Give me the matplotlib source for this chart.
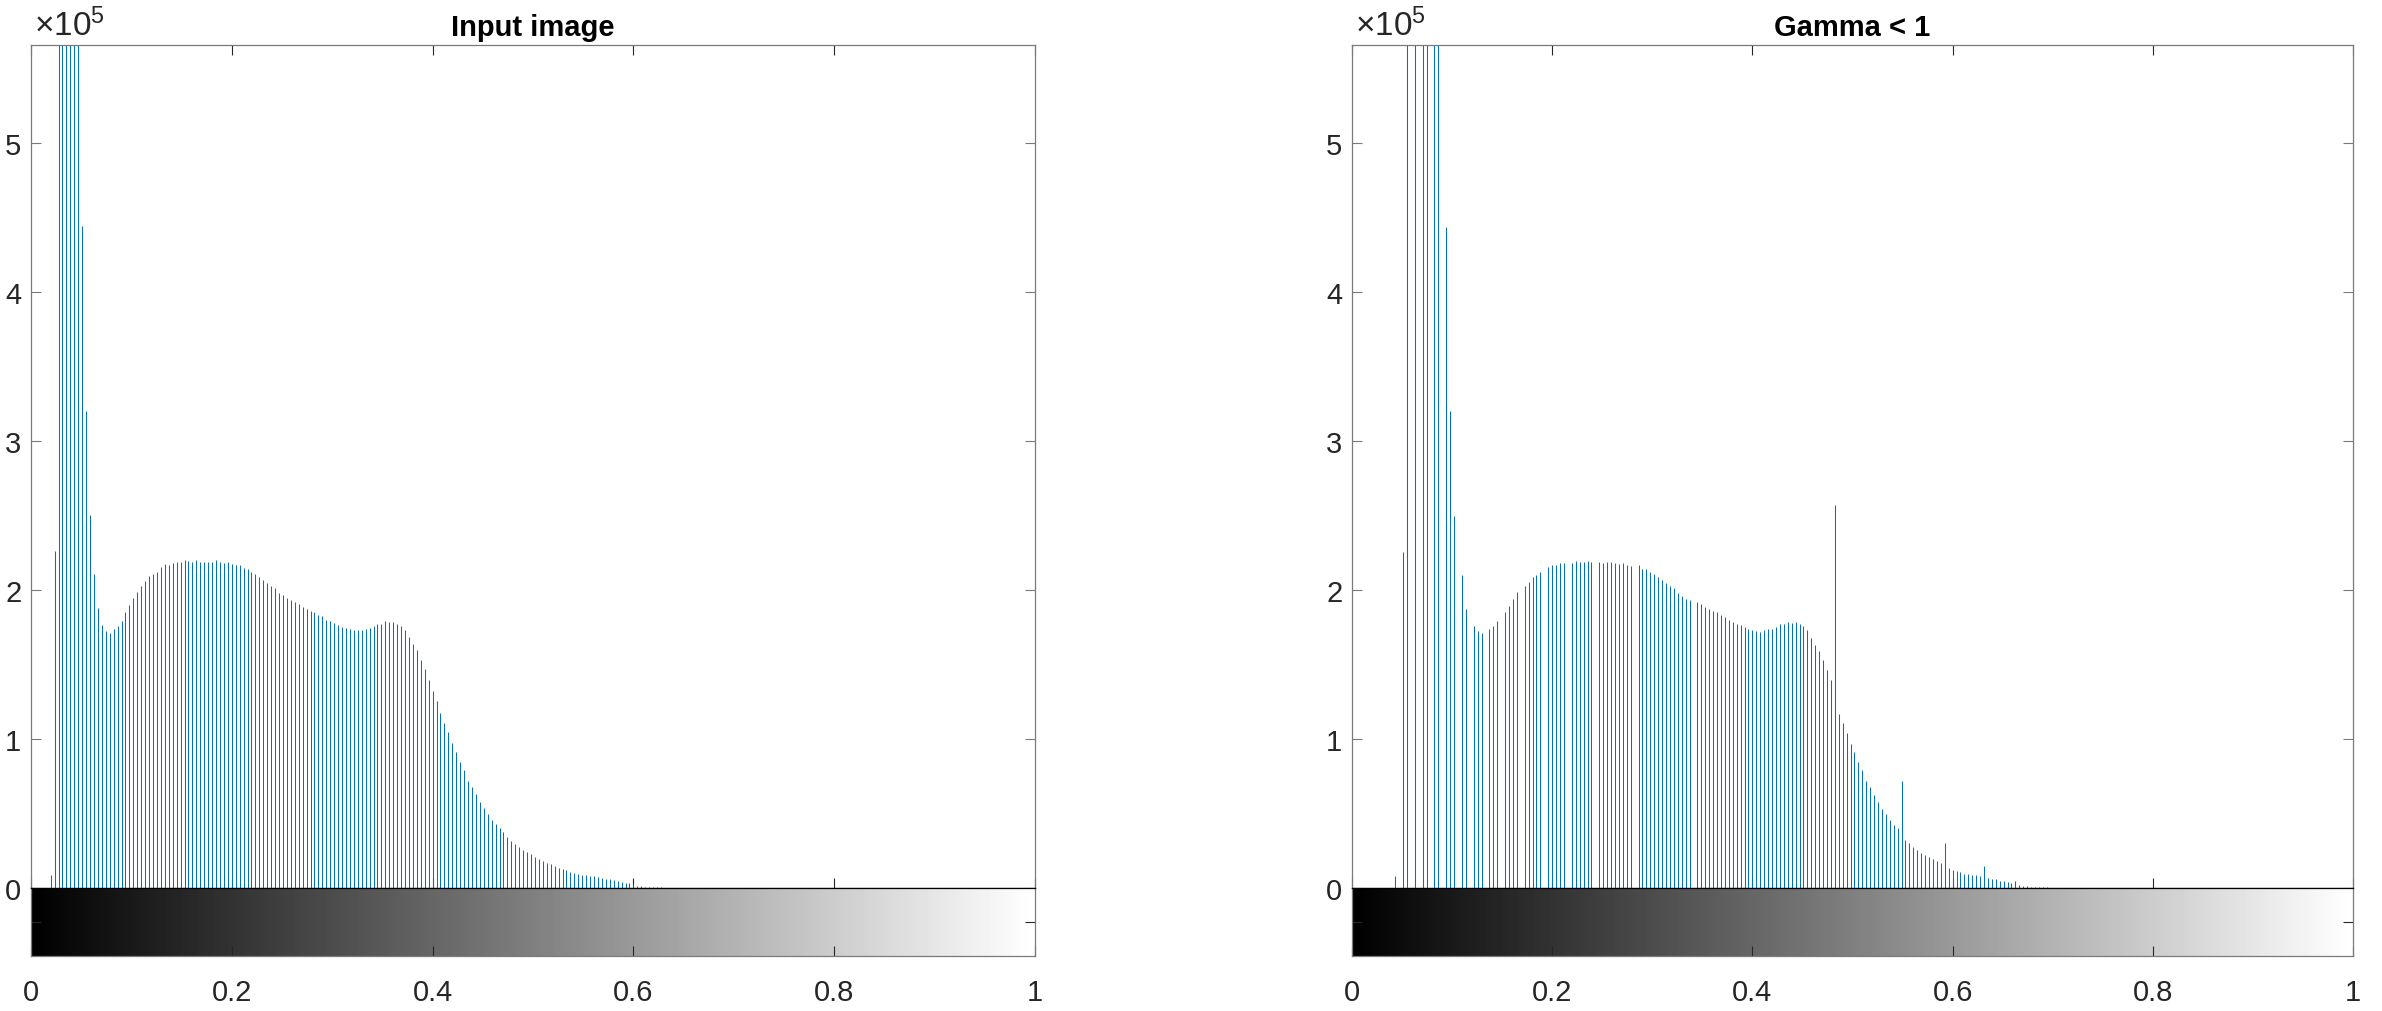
import numpy as np
import matplotlib
matplotlib.use('Agg')
import matplotlib.pyplot as plt

plt.rcParams['font.family'] = ['Liberation Sans', 'DejaVu Sans']
plt.rcParams['mathtext.fontset'] = 'custom'
plt.rcParams['mathtext.rm'] = 'Liberation Sans'
plt.rcParams['mathtext.it'] = 'Liberation Sans'

# counts in units of 1e5, 256 bins over [0, 1]
# bins 7..12 run off the top of the axes, their heights are guesses
input_start = 5
input_counts = [
    0.085, 2.26, 7.4, 9.6, 11.2, 10.5, 8.3, 6.1, 4.445, 3.205,
    2.504, 2.107, 1.877, 1.765, 1.725, 1.709, 1.736, 1.761, 1.796, 1.852,
    1.897, 1.944, 1.989, 2.027, 2.058, 2.094, 2.107, 2.125, 2.157, 2.174,
    2.170, 2.181, 2.186, 2.188, 2.199, 2.197, 2.190, 2.201, 2.192, 2.192,
    2.188, 2.192, 2.199, 2.188, 2.179, 2.186, 2.174, 2.168, 2.168, 2.148,
    2.145, 2.123, 2.105, 2.085, 2.069, 2.049, 2.031, 2.011, 1.984, 1.964,
    1.946, 1.935, 1.919, 1.906, 1.890, 1.872, 1.863, 1.850, 1.834, 1.825,
    1.801, 1.792, 1.776, 1.765, 1.752, 1.749, 1.738, 1.732, 1.729, 1.734,
    1.736, 1.745, 1.758, 1.772, 1.772, 1.790, 1.785, 1.785, 1.773, 1.761,
    1.735, 1.687, 1.639, 1.600, 1.531, 1.468, 1.396, 1.324, 1.255, 1.177,
    1.108, 1.046, 0.971, 0.914, 0.848, 0.794, 0.719, 0.680, 0.629, 0.578,
    0.536, 0.497, 0.458, 0.428, 0.401, 0.374, 0.342, 0.318, 0.297, 0.276,
    0.255, 0.240, 0.225, 0.210, 0.198, 0.183, 0.171, 0.159, 0.150, 0.135,
    0.126, 0.120, 0.108, 0.102, 0.096, 0.090, 0.087, 0.081, 0.078, 0.072,
    0.069, 0.063, 0.060, 0.054, 0.048, 0.042, 0.036, 0.033, 0.025, 0.015,
    0.012, 0.009, 0.008, 0.006, 0.005, 0.004, 0.003,
]

gamma_bins = [
    11, 13, 14, 16, 18, 19, 21, 22, 24, 25, 26, 28, 29, 31, 32, 33, 35, 36, 37,
    39, 40, 41, 42, 44, 45, 46, 47, 48, 50, 51, 52, 53, 54, 56, 57, 58, 59, 60,
    61, 63, 64, 65, 66, 67, 68, 69, 70, 71, 73, 74, 75, 76, 77, 78, 79, 80, 81,
    82, 83, 84, 85, 86, 88, 89, 90, 91, 92, 93, 94, 95, 96, 97, 98, 99, 100,
    101, 102, 103, 104, 105, 106, 107, 108, 109, 110, 111, 112, 113, 114, 115,
    116, 117, 118, 119, 120, 121, 122, 123, 124, 125, 126, 127, 128, 129, 130,
    131, 132, 133, 134, 135, 136, 137, 138, 139, 140, 141, 142, 143, 144, 145,
    146, 147, 148, 149, 150, 151, 152, 153, 154, 155, 156, 157, 158, 159, 160,
    161, 162, 163, 164, 165, 166, 167, 168, 169, 170, 171, 172, 173, 174, 175,
    176, 177,
]
gamma_counts = [
    0.083, 2.253, 7.4, 9.6, 11.2, 10.5, 8.3, 6.1, 4.44, 3.20, 2.50, 2.10, 1.872,
    1.760, 1.725, 1.709, 1.736, 1.756, 1.794, 1.850, 1.895, 1.940, 1.987,
    2.025, 2.054, 2.090, 2.100, 2.121, 2.157, 2.168, 2.168, 2.179, 2.181,
    2.183, 2.197, 2.192, 2.188, 2.197, 2.188, 2.188, 2.181, 2.188, 2.192,
    2.181, 2.177, 2.181, 2.172, 2.163, 2.166, 2.145, 2.141, 2.121, 2.107,
    2.085, 2.065, 2.047, 2.027, 2.011, 1.980, 1.962, 1.940, 1.931, 1.917,
    1.905, 1.886, 1.870, 1.859, 1.850, 1.831, 1.822, 1.797, 1.786, 1.772,
    1.764, 1.750, 1.742, 1.733, 1.728, 1.722, 1.733, 1.736, 1.742, 1.753,
    1.770, 1.770, 1.786, 1.781, 1.784, 1.770, 1.756, 1.731, 1.678, 1.633,
    1.594, 1.528, 1.461, 1.394, 2.574, 1.171, 1.107, 1.041, 0.968, 0.913,
    0.843, 0.790, 0.718, 0.679, 0.623, 0.576, 0.529, 0.498, 0.456, 0.426,
    0.401, 0.718, 0.320, 0.303, 0.275, 0.253, 0.236, 0.220, 0.206, 0.195,
    0.181, 0.167, 0.303, 0.131, 0.122, 0.114, 0.106, 0.097, 0.092, 0.089,
    0.086, 0.081, 0.150, 0.067, 0.061, 0.058, 0.050, 0.045, 0.042, 0.031,
    0.050, 0.017, 0.014, 0.011, 0.008, 0.008, 0.006, 0.005, 0.004,
]

titles = ['Input image', 'Gamma < 1']
ytick_vals = [0, 1, 2, 3, 4, 5]
xtick_vals = [0, 0.2, 0.4, 0.6, 0.8, 1]
xtick_labels = ['0', '0.2', '0.4', '0.6', '0.8', '1']

W, H = 2382, 1012
fig = plt.figure(figsize=(W / 100, H / 100), dpi=100)

stem_color = '#0072BD'
edge = '#7a7a7a'
txt = '#262626'
fs = 21

panels = [
    (31, 1035, np.arange(input_start, input_start + len(input_counts)), input_counts),
    (1352, 2353, np.array(gamma_bins), gamma_counts),
]

grad = np.linspace(0, 1, 256).reshape(1, -1)

for (x0, x1, bins, counts), title in zip(panels, titles):
    left = x0 / W
    width = (x1 - x0) / W
    ax = fig.add_axes([left, 1 - 889 / H, width, (889 - 46) / H])
    cb = fig.add_axes([left, 1 - 957 / H, width, (957 - 889) / H])

    xs = bins / 255.0
    ax.vlines(xs, 0, np.array(counts) * 1e5, color=stem_color, lw=0.75)
    ax.set_xlim(0, 1)
    ax.set_ylim(0, 5.66e5)
    ax.set_yticks([v * 1e5 for v in ytick_vals])
    ax.set_yticklabels([str(v) for v in ytick_vals])
    ax.set_xticks(xtick_vals)
    ax.set_xticklabels([])
    ax.tick_params(axis='both', direction='in', length=7.5, width=0.8,
                   colors=txt, labelcolor=txt, labelsize=fs, pad=7,
                   top=True, right=True)
    ax.tick_params(axis='y', color=edge)
    for s in ax.spines.values():
        s.set_color(edge)
        s.set_linewidth(0.9)
    ax.spines['bottom'].set_color(txt)
    ax.set_title(title, fontsize=fs, fontweight='bold', pad=7, color='black')
    ax.text(0.003, 1.003, r'$\times10^{5}$', transform=ax.transAxes,
            ha='left', va='bottom', fontsize=24, color=txt)

    cb.imshow(grad, cmap='gray', aspect='auto', extent=[0, 1, 0, 1],
              interpolation='bilinear')
    cb.set_xlim(0, 1)
    cb.set_ylim(0, 1)
    cb.set_xticks(xtick_vals)
    cb.set_xticklabels(xtick_labels)
    cb.set_yticks([0.5])
    cb.set_yticklabels([])
    cb.tick_params(axis='both', direction='in', length=7.5, width=0.8,
                   colors=txt, labelcolor=txt, labelsize=fs, pad=16,
                   right=True)
    for s in cb.spines.values():
        s.set_color(edge)
        s.set_linewidth(0.9)
    cb.spines['top'].set_color('black')

fig.savefig('out.png', dpi=100)
